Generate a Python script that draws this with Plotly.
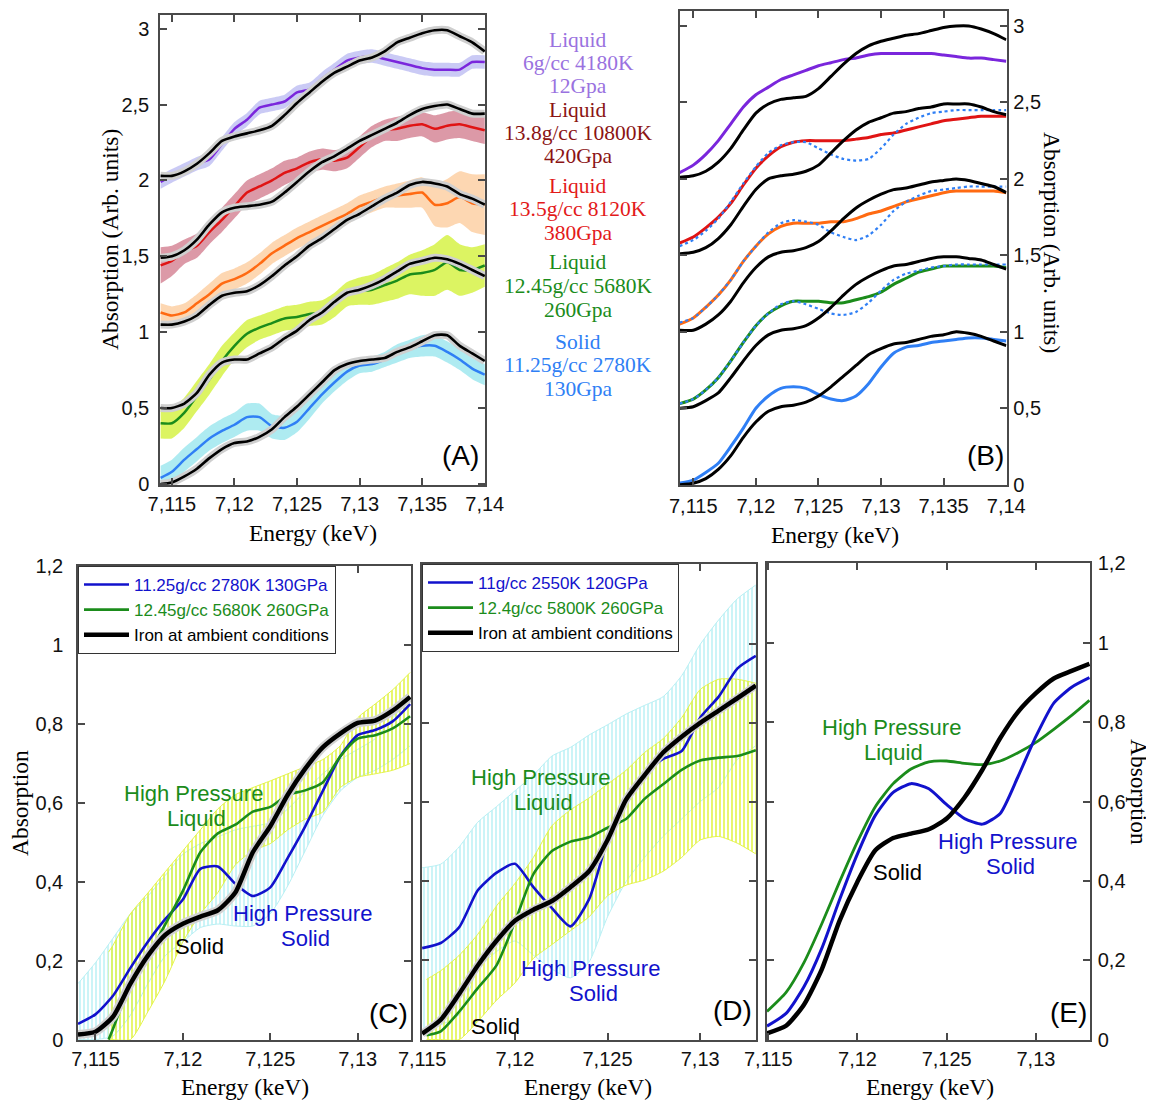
import plotly.graph_objects as go

# The page body has an 8 px margin: the figure is sized and positioned to compensate.
OFF = 8
W, H = 1154 - OFF, 1101 - OFF
def fx(p): return (p - OFF) / W
def fy(p): return 1 - (p - OFF) / H

SANS = 'Liberation Sans, Arial, sans-serif'
SERIF = 'Liberation Serif, Times New Roman, serif'

# ---------------- Panel A (experimental, offset curves) ----------------
EA = [7.1141, 7.115, 7.116, 7.117, 7.118, 7.119, 7.120, 7.121, 7.122, 7.123, 7.124, 7.125, 7.126,
      7.127, 7.128, 7.129, 7.130, 7.131, 7.132, 7.133, 7.134, 7.135, 7.136, 7.137, 7.138, 7.139, 7.140]
A_black0 = [0.00, 0.01, 0.05, 0.10, 0.17, 0.23, 0.27, 0.28, 0.31, 0.36, 0.44, 0.51, 0.59, 0.67, 0.75, 0.79, 0.81, 0.82, 0.83, 0.87, 0.90, 0.94, 0.98, 0.98, 0.91, 0.86, 0.81]
A_blue = [0.04, 0.08, 0.16, 0.23, 0.30, 0.35, 0.39, 0.44, 0.44, 0.38, 0.37, 0.41, 0.50, 0.59, 0.67, 0.74, 0.78, 0.79, 0.82, 0.86, 0.89, 0.91, 0.91, 0.87, 0.82, 0.76, 0.72]
A_err_blue = [0.08, 0.08, 0.08, 0.08, 0.08, 0.08, 0.08, 0.09, 0.09, 0.08, 0.08, 0.07, 0.07, 0.06, 0.06, 0.06, 0.05, 0.05, 0.05, 0.06, 0.06, 0.07, 0.07, 0.07, 0.07, 0.07, 0.07]
A_black1 = [0.50, 0.50, 0.53, 0.60, 0.72, 0.80, 0.82, 0.82, 0.86, 0.90, 0.96, 1.01, 1.08, 1.13, 1.20, 1.26, 1.28, 1.31, 1.35, 1.40, 1.45, 1.47, 1.49, 1.48, 1.45, 1.41, 1.37]
A_green = [0.40, 0.40, 0.47, 0.58, 0.69, 0.81, 0.91, 0.99, 1.03, 1.06, 1.09, 1.10, 1.12, 1.13, 1.18, 1.25, 1.27, 1.28, 1.31, 1.34, 1.38, 1.39, 1.41, 1.46, 1.41, 1.41, 1.44]
A_err_green = [0.10, 0.10, 0.10, 0.10, 0.10, 0.10, 0.09, 0.09, 0.08, 0.08, 0.08, 0.08, 0.08, 0.08, 0.08, 0.08, 0.09, 0.10, 0.11, 0.12, 0.13, 0.15, 0.17, 0.18, 0.17, 0.15, 0.14]
A_black2 = [1.05, 1.05, 1.07, 1.11, 1.18, 1.24, 1.26, 1.27, 1.31, 1.37, 1.44, 1.50, 1.57, 1.62, 1.68, 1.74, 1.78, 1.83, 1.88, 1.92, 1.97, 1.99, 1.98, 1.96, 1.91, 1.88, 1.84]
A_orange = [1.13, 1.11, 1.13, 1.19, 1.25, 1.32, 1.35, 1.39, 1.45, 1.52, 1.57, 1.62, 1.66, 1.70, 1.74, 1.78, 1.83, 1.86, 1.89, 1.90, 1.91, 1.92, 1.84, 1.85, 1.89, 1.85, 1.84]
A_err_orange = [0.06, 0.06, 0.06, 0.06, 0.07, 0.07, 0.07, 0.07, 0.07, 0.07, 0.07, 0.07, 0.07, 0.07, 0.07, 0.07, 0.07, 0.07, 0.07, 0.08, 0.09, 0.10, 0.14, 0.16, 0.17, 0.19, 0.20]
A_black3 = [1.49, 1.50, 1.54, 1.61, 1.71, 1.79, 1.82, 1.83, 1.84, 1.86, 1.92, 1.99, 2.06, 2.12, 2.16, 2.21, 2.26, 2.30, 2.34, 2.38, 2.43, 2.47, 2.49, 2.50, 2.47, 2.44, 2.44]
A_red = [1.44, 1.47, 1.53, 1.57, 1.66, 1.74, 1.83, 1.92, 1.96, 2.00, 2.05, 2.08, 2.12, 2.14, 2.13, 2.15, 2.22, 2.29, 2.33, 2.34, 2.36, 2.37, 2.34, 2.36, 2.37, 2.35, 2.33]
A_err_red = [0.12, 0.10, 0.08, 0.08, 0.08, 0.08, 0.08, 0.08, 0.08, 0.08, 0.08, 0.07, 0.07, 0.07, 0.07, 0.07, 0.07, 0.07, 0.07, 0.08, 0.08, 0.08, 0.09, 0.09, 0.09, 0.09, 0.09]
A_black4 = [2.03, 2.03, 2.06, 2.11, 2.18, 2.26, 2.29, 2.31, 2.33, 2.36, 2.43, 2.51, 2.58, 2.65, 2.71, 2.75, 2.79, 2.81, 2.85, 2.91, 2.94, 2.97, 2.99, 2.99, 2.95, 2.91, 2.85]
A_purple = [1.99, 2.03, 2.07, 2.11, 2.14, 2.24, 2.34, 2.40, 2.48, 2.50, 2.52, 2.58, 2.60, 2.67, 2.73, 2.79, 2.81, 2.82, 2.80, 2.78, 2.76, 2.74, 2.73, 2.73, 2.73, 2.78, 2.78]
A_err_purple = [0.045, 0.045, 0.045, 0.045, 0.045, 0.045, 0.045, 0.045, 0.045, 0.045, 0.045, 0.045, 0.045, 0.045, 0.045, 0.045, 0.045, 0.045, 0.045, 0.045, 0.045, 0.045, 0.045, 0.045, 0.045, 0.045, 0.045]

# ---------------- Panel B (calculated spectra) ----------------
EB = [7.1139, 7.115, 7.116, 7.117, 7.118, 7.119, 7.120, 7.121, 7.122, 7.123, 7.124, 7.125, 7.126,
      7.127, 7.128, 7.129, 7.130, 7.131, 7.132, 7.133, 7.134, 7.135, 7.136, 7.137, 7.138, 7.139, 7.140]
B_black0 = [0.00, 0.01, 0.04, 0.10, 0.19, 0.31, 0.41, 0.48, 0.51, 0.52, 0.54, 0.58, 0.64, 0.71, 0.78, 0.85, 0.89, 0.92, 0.93, 0.95, 0.97, 0.98, 1.00, 0.99, 0.97, 0.94, 0.91]
B_blue = [0.01, 0.03, 0.08, 0.14, 0.25, 0.37, 0.50, 0.58, 0.63, 0.64, 0.63, 0.59, 0.56, 0.55, 0.58, 0.66, 0.77, 0.86, 0.90, 0.91, 0.93, 0.94, 0.95, 0.96, 0.96, 0.95, 0.94]
B_black1 = [0.50, 0.51, 0.55, 0.60, 0.70, 0.81, 0.91, 0.98, 1.01, 1.02, 1.04, 1.09, 1.16, 1.24, 1.31, 1.36, 1.40, 1.43, 1.44, 1.46, 1.48, 1.49, 1.49, 1.48, 1.47, 1.44, 1.41]
B_green = [0.53, 0.56, 0.62, 0.70, 0.81, 0.93, 1.04, 1.12, 1.17, 1.20, 1.20, 1.20, 1.19, 1.19, 1.21, 1.23, 1.26, 1.31, 1.35, 1.39, 1.41, 1.43, 1.43, 1.43, 1.43, 1.43, 1.42]
B_dot1 = [0.53, 0.56, 0.62, 0.70, 0.81, 0.93, 1.04, 1.12, 1.18, 1.20, 1.18, 1.15, 1.12, 1.11, 1.13, 1.19, 1.27, 1.34, 1.38, 1.40, 1.42, 1.43, 1.44, 1.44, 1.44, 1.44, 1.44]
B_black2 = [1.01, 1.01, 1.05, 1.11, 1.20, 1.32, 1.42, 1.49, 1.52, 1.53, 1.55, 1.59, 1.66, 1.74, 1.81, 1.86, 1.90, 1.93, 1.94, 1.96, 1.98, 1.99, 2.00, 1.99, 1.97, 1.95, 1.91]
B_orange = [1.05, 1.09, 1.16, 1.24, 1.34, 1.46, 1.56, 1.64, 1.69, 1.71, 1.71, 1.71, 1.72, 1.72, 1.74, 1.77, 1.79, 1.82, 1.85, 1.87, 1.89, 1.91, 1.92, 1.92, 1.92, 1.92, 1.91]
B_dot2 = [1.06, 1.09, 1.16, 1.24, 1.34, 1.46, 1.56, 1.65, 1.71, 1.73, 1.72, 1.70, 1.65, 1.62, 1.60, 1.63, 1.70, 1.79, 1.85, 1.89, 1.92, 1.93, 1.94, 1.95, 1.95, 1.95, 1.95]
B_black3 = [1.51, 1.52, 1.55, 1.61, 1.70, 1.82, 1.93, 2.00, 2.02, 2.03, 2.05, 2.09, 2.17, 2.25, 2.32, 2.37, 2.40, 2.43, 2.44, 2.46, 2.47, 2.49, 2.49, 2.49, 2.47, 2.44, 2.42]
B_red = [1.58, 1.62, 1.68, 1.75, 1.84, 1.96, 2.07, 2.15, 2.21, 2.24, 2.25, 2.25, 2.25, 2.25, 2.26, 2.27, 2.29, 2.30, 2.32, 2.34, 2.36, 2.38, 2.39, 2.40, 2.41, 2.41, 2.41]
B_dot3 = [1.56, 1.60, 1.66, 1.74, 1.85, 1.97, 2.08, 2.17, 2.22, 2.24, 2.24, 2.20, 2.16, 2.13, 2.12, 2.13, 2.20, 2.29, 2.36, 2.40, 2.43, 2.44, 2.45, 2.45, 2.45, 2.45, 2.45]
B_black4 = [2.01, 2.02, 2.05, 2.11, 2.20, 2.32, 2.43, 2.49, 2.52, 2.53, 2.54, 2.59, 2.67, 2.75, 2.82, 2.87, 2.90, 2.92, 2.94, 2.95, 2.97, 2.99, 3.00, 3.00, 2.98, 2.95, 2.91]
B_purple = [2.04, 2.09, 2.16, 2.25, 2.36, 2.47, 2.55, 2.60, 2.65, 2.68, 2.71, 2.74, 2.76, 2.78, 2.79, 2.81, 2.82, 2.82, 2.82, 2.82, 2.82, 2.81, 2.80, 2.79, 2.79, 2.78, 2.77]

# ---------------- Panel C (experiment, data set 1) ----------------
EC = [7.114, 7.115, 7.116, 7.117, 7.118, 7.119, 7.120, 7.121, 7.122, 7.123, 7.124, 7.125, 7.126,
      7.127, 7.128, 7.129, 7.130, 7.131, 7.132, 7.133]
C_black = [0.013, 0.02, 0.058, 0.142, 0.213, 0.266, 0.294, 0.312, 0.328, 0.373, 0.475, 0.541, 0.621, 0.687, 0.741, 0.776, 0.803, 0.809, 0.834, 0.869]
C_blue = [0.04, 0.064, 0.111, 0.182, 0.248, 0.306, 0.355, 0.433, 0.439, 0.395, 0.364, 0.386, 0.461, 0.541, 0.63, 0.718, 0.772, 0.785, 0.807, 0.851]
C_blue_hi = [0.142, 0.195, 0.257, 0.319, 0.364, 0.417, 0.47, 0.497, 0.514, 0.532, 0.541, 0.55, 0.585, 0.63, 0.674, 0.71, 0.736, 0.763, 0.816, 0.86]
C_blue_lo = [0.0, 0.0, 0.009, 0.062, 0.142, 0.213, 0.248, 0.284, 0.293, 0.288, 0.288, 0.319, 0.39, 0.479, 0.568, 0.63, 0.665, 0.683, 0.71, 0.745]
EC_g = [7.11575, 7.116, 7.117, 7.118, 7.119, 7.120, 7.121, 7.122, 7.123, 7.124, 7.125, 7.126,
        7.127, 7.128, 7.129, 7.130, 7.131, 7.132, 7.133]
C_green = [0.0, 0.027, 0.142, 0.213, 0.293, 0.377, 0.475, 0.523, 0.545, 0.578, 0.59, 0.621, 0.632, 0.652, 0.718, 0.763, 0.772, 0.789, 0.82]
C_green_hi = [0.222, 0.239, 0.319, 0.372, 0.426, 0.479, 0.532, 0.585, 0.621, 0.639, 0.656, 0.674, 0.692, 0.71, 0.745, 0.816, 0.851, 0.887, 0.931]
C_green_lo = [0.0, 0.0, 0.0, 0.071, 0.151, 0.248, 0.319, 0.373, 0.443, 0.479, 0.497, 0.532, 0.559, 0.577, 0.639, 0.665, 0.674, 0.683, 0.70]

# ---------------- Panel D (experiment, data set 2) ----------------
ED = [7.115, 7.116, 7.117, 7.118, 7.119, 7.120, 7.121, 7.122, 7.123, 7.124, 7.125, 7.126,
      7.127, 7.128, 7.129, 7.130, 7.131, 7.132, 7.133]
D_black = [0.015, 0.05, 0.116, 0.187, 0.249, 0.30, 0.328, 0.35, 0.385, 0.425, 0.504, 0.606, 0.668, 0.725, 0.765, 0.80, 0.831, 0.862, 0.894]
D_blue = [0.231, 0.244, 0.284, 0.377, 0.421, 0.444, 0.385, 0.332, 0.286, 0.354, 0.504, 0.615, 0.672, 0.709, 0.729, 0.813, 0.866, 0.937, 0.969]
D_blue_hi = [0.434, 0.443, 0.487, 0.549, 0.588, 0.628, 0.668, 0.716, 0.738, 0.769, 0.795, 0.822, 0.844, 0.866, 0.919, 0.998, 1.06, 1.113, 1.148]
D_blue_lo = [0.019, 0.037, 0.063, 0.178, 0.222, 0.249, 0.213, 0.178, 0.156, 0.196, 0.31, 0.399, 0.46, 0.513, 0.557, 0.601, 0.637, 0.707, 0.742]
ED_g = [7.11523, 7.116, 7.117, 7.118, 7.119, 7.120, 7.121, 7.122, 7.123, 7.124, 7.125, 7.126,
        7.127, 7.128, 7.129, 7.130, 7.131, 7.132, 7.133]
D_green = [0.011, 0.021, 0.071, 0.13, 0.187, 0.297, 0.418, 0.476, 0.50, 0.511, 0.535, 0.557, 0.608, 0.645, 0.681, 0.705, 0.712, 0.716, 0.731]
D_green_hi = [0.152, 0.174, 0.213, 0.266, 0.337, 0.394, 0.46, 0.54, 0.58, 0.61, 0.645, 0.68, 0.725, 0.76, 0.813, 0.884, 0.91, 0.91, 0.90]
D_green_lo = [0.0, 0.0, 0.0, 0.046, 0.099, 0.143, 0.205, 0.24, 0.275, 0.31, 0.363, 0.39, 0.403, 0.425, 0.46, 0.504, 0.513, 0.496, 0.469]

# ---------------- Panel E (calculation) ----------------
EE = [7.11493, 7.116, 7.117, 7.118, 7.119, 7.120, 7.121, 7.122, 7.123, 7.124, 7.125, 7.126,
      7.127, 7.128, 7.129, 7.130, 7.131, 7.132, 7.133]
E_black = [0.016, 0.035, 0.088, 0.177, 0.30, 0.398, 0.477, 0.508, 0.519, 0.53, 0.557, 0.61, 0.68, 0.76, 0.826, 0.873, 0.91, 0.929, 0.947]
E_blue = [0.034, 0.066, 0.133, 0.23, 0.353, 0.468, 0.565, 0.623, 0.645, 0.632, 0.592, 0.557, 0.543, 0.57, 0.663, 0.764, 0.848, 0.888, 0.912]
E_green = [0.071, 0.119, 0.194, 0.292, 0.398, 0.499, 0.587, 0.645, 0.682, 0.70, 0.702, 0.696, 0.693, 0.702, 0.723, 0.749, 0.782, 0.817, 0.855]

# tick labels
TV_AB = [7.115, 7.12, 7.125, 7.13, 7.135, 7.14]
TT_AB = ['7,115', '7,12', '7,125', '7,13', '7,135', '7,14']
TV_CDE = [7.115, 7.12, 7.125, 7.13]
TT_CDE = ['7,115', '7,12', '7,125', '7,13']
YV_AB = [0, 0.5, 1, 1.5, 2, 2.5, 3]
YT_AB = ['0', '0,5', '1', '1,5', '2', '2,5', '3']
YV_CDE = [0, 0.2, 0.4, 0.6, 0.8, 1.0, 1.2]
YT_CDE = ['0', '0,2', '0,4', '0,6', '0,8', '1', '1,2']

# colours
C_LBLUE = '#2f7ff5'
C_GREEN = '#1b8c1b'
C_ORANGE = '#ff6a12'
C_RED = '#e01414'
C_PURPLE = '#7a26dc'
C_DBLUE = '#1212cc'

fig = go.Figure()

def line(x, y, color, width, xa, ya, dash=None, name=None, legend=None, show=False, smooth=0.6):
    fig.add_trace(go.Scatter(x=x, y=y, mode='lines',
                             line=dict(color=color, width=width, dash=dash, shape='spline', smoothing=smooth),
                             xaxis=xa, yaxis=ya, name=name, showlegend=show,
                             legend=legend if legend else 'legend', hoverinfo='skip'))

def band(x, lo, hi, color, xa, ya, pattern=None, edge=None):
    ew = 1 if edge else 0
    ec = edge if edge else 'rgba(0,0,0,0)'
    fig.add_trace(go.Scatter(x=x, y=hi, mode='lines', line=dict(width=ew, color=ec, shape='spline', smoothing=0.6),
                             xaxis=xa, yaxis=ya, showlegend=False, hoverinfo='skip'))
    if pattern:
        kw = dict(fill='tonexty', fillcolor='rgba(255,255,255,0)', fillpattern=pattern)
    else:
        kw = dict(fill='tonexty', fillcolor=color)
    fig.add_trace(go.Scatter(x=x, y=lo, mode='lines', line=dict(width=ew, color=ec, shape='spline', smoothing=0.6),
                             xaxis=xa, yaxis=ya, showlegend=False, hoverinfo='skip', **kw))

# ---- Panel A ----
groupsA = [
    (A_blue, A_err_blue, A_black0, C_LBLUE, 'rgba(160,232,238,0.85)'),
    (A_green, A_err_green, A_black1, C_GREEN, 'rgba(214,242,70,0.85)'),
    (A_orange, A_err_orange, A_black2, C_ORANGE, 'rgba(253,208,165,0.85)'),
    (A_red, A_err_red, A_black3, C_RED, 'rgba(214,135,152,0.85)'),
    (A_purple, A_err_purple, A_black4, C_PURPLE, 'rgba(196,196,244,0.9)'),
]
for yv, ev, bk, col, bcol in groupsA:
    band(EA, [a - e for a, e in zip(yv, ev)], [a + e for a, e in zip(yv, ev)], bcol, 'x', 'y')
    line(EA, yv, col, 2.5, 'x', 'y')
    line(EA, bk, '#cfcfcf', 8, 'x', 'y')
    line(EA, bk, 'black', 2.6, 'x', 'y')

# ---- Panel B ----
line(EB, B_blue, C_LBLUE, 3, 'x2', 'y2')
line(EB, B_green, C_GREEN, 3, 'x2', 'y2')
line(EB, B_dot1, C_LBLUE, 2.2, 'x2', 'y2', dash='dot')
line(EB, B_orange, C_ORANGE, 3, 'x2', 'y2')
line(EB, B_dot2, C_LBLUE, 2.2, 'x2', 'y2', dash='dot')
line(EB, B_red, C_RED, 3, 'x2', 'y2')
line(EB, B_dot3, C_LBLUE, 2.2, 'x2', 'y2', dash='dot')
line(EB, B_purple, C_PURPLE, 3, 'x2', 'y2')
for bk in (B_black0, B_black1, B_black2, B_black3, B_black4):
    line(EB, bk, 'black', 3, 'x2', 'y2')

# ---- Panel C ----
pat_cyan = dict(shape='|', fgcolor='#a8ecf2', size=4, solidity=0.3)
pat_yel = dict(shape='|', fgcolor='#dff232', size=4, solidity=0.35)
band(EC, C_blue_lo, C_blue_hi, None, 'x3', 'y3', pattern=pat_cyan, edge='#b8f0f4')
band(EC_g, C_green_lo, C_green_hi, None, 'x3', 'y3', pattern=pat_yel, edge='#e4f448')
line(EC, C_blue, C_DBLUE, 2.6, 'x3', 'y3', name='<span style="color:#1212cc">11.25g/cc 2780K 130GPa</span>', legend='legend', show=True)
line(EC_g, C_green, C_GREEN, 2.6, 'x3', 'y3', name='<span style="color:#1b8c1b">12.45g/cc 5680K 260GPa</span>', legend='legend', show=True)
line(EC, C_black, '#d2d2d2', 9, 'x3', 'y3')
line(EC, C_black, 'black', 4.5, 'x3', 'y3', name='Iron at ambient conditions', legend='legend', show=True)

# ---- Panel D ----
band(ED, D_blue_lo, D_blue_hi, None, 'x4', 'y4', pattern=pat_cyan, edge='#b8f0f4')
band(ED_g, D_green_lo, D_green_hi, None, 'x4', 'y4', pattern=pat_yel, edge='#e4f448')
line(ED, D_blue, C_DBLUE, 2.6, 'x4', 'y4', name='<span style="color:#1212cc">11g/cc 2550K 120GPa</span>', legend='legend2', show=True)
line(ED_g, D_green, C_GREEN, 2.6, 'x4', 'y4', name='<span style="color:#1b8c1b">12.4g/cc 5800K 260GPa</span>', legend='legend2', show=True)
line(ED, D_black, '#d2d2d2', 8, 'x4', 'y4')
line(ED, D_black, 'black', 4.5, 'x4', 'y4', name='Iron at ambient conditions', legend='legend2', show=True)

# ---- Panel E ----
line(EE, E_green, C_GREEN, 2.8, 'x5', 'y5')
line(EE, E_blue, C_DBLUE, 3, 'x5', 'y5')
line(EE, E_black, 'black', 4.5, 'x5', 'y5')

# ---- axes ----
def axis(domain, rng, tv, tt, anchor, side=None, labels=True, standoff=None):
    d = dict(domain=domain, range=rng, tickvals=tv, ticktext=tt, anchor=anchor,
             showline=True, linecolor='#4a4a4a', linewidth=1.5, mirror='ticks',
             ticks='inside', ticklen=7, tickwidth=1.5, tickcolor='#4a4a4a',
             showgrid=False, zeroline=False, showticklabels=labels, automargin=False,
             tickfont=dict(family=SANS, size=20, color='#111'))
    if side:
        d['side'] = side
    if standoff is not None:
        d['ticklabelstandoff'] = standoff
    return d

fig.update_layout(
    xaxis=axis([fx(160), fx(485)], [7.11405, 7.14002], TV_AB, TT_AB, 'y', standoff=0),
    yaxis=axis([fy(485), fy(15)], [-0.007, 3.09], YV_AB, YT_AB, 'x', standoff=5),
    xaxis2=axis([fx(680), fx(1006.5)], [7.11394, 7.14002], TV_AB, TT_AB, 'y2', standoff=2),
    yaxis2=axis([fy(485), fy(11)], [-0.002, 3.098], YV_AB, YT_AB, 'x2', side='right', standoff=1),
    xaxis3=axis([fx(78), fx(411)], [7.114, 7.13305], TV_CDE, TT_CDE, 'y3', standoff=0),
    yaxis3=axis([fy(1040), fy(566)], [-0.001, 1.201], YV_CDE, YT_CDE, 'x3', standoff=9),
    xaxis4=axis([fx(422), fx(756)], [7.11499, 7.13301], TV_CDE, TT_CDE, 'y4', standoff=0),
    yaxis4=axis([fy(1040), fy(564)], [-0.001, 1.201], YV_CDE, YT_CDE, 'x4', labels=False),
    xaxis5=axis([fx(767), fx(1090)], [7.11493, 7.13303], TV_CDE, TT_CDE, 'y5', standoff=0),
    yaxis5=axis([fy(1040), fy(563)], [-0.001, 1.201], YV_CDE, YT_CDE, 'x5', side='right', standoff=2),
)

legend_common = dict(xanchor='left', yanchor='top', bgcolor='white', bordercolor='#333',
                     borderwidth=1, font=dict(family=SANS, size=17, color='black'),
                     traceorder='normal', itemwidth=45)
fig.update_layout(
    legend=dict(x=fx(78), y=fy(566), **legend_common),
    legend2=dict(x=fx(422), y=fy(564), **legend_common),
)

# ---- annotations ----
ann = []
def txt(s, x, y, size, color='black', family=SANS, angle=0):
    ann.append(dict(text=s, x=fx(x), y=fy(y), xref='paper', yref='paper', showarrow=False,
                    xanchor='center', yanchor='middle', textangle=angle,
                    font=dict(family=family, size=size, color=color)))

# axis titles
TS = 23.5
txt('Absorption (Arb. units)', 110, 240, TS, family=SERIF, angle=-90)
txt('Energy (keV)', 313, 533, TS, family=SERIF)
txt('Energy (keV)', 835, 535, TS, family=SERIF)
txt('Absorption (Arb. units)', 1052, 242, TS, family=SERIF, angle=90)
txt('Absorption', 20, 803, TS, family=SERIF, angle=-90)
txt('Energy (keV)', 245, 1087, TS, family=SERIF)
txt('Energy (keV)', 588, 1087, TS, family=SERIF)
txt('Energy (keV)', 930, 1087, TS, family=SERIF)
txt('Absorption', 1139, 792, TS, family=SERIF, angle=90)

# panel letters
txt('(A)', 460, 455, 28)
txt('(B)', 985, 455, 28)
txt('(C)', 388, 1013, 28)
txt('(D)', 732, 1010, 28)
txt('(E)', 1068, 1012, 28)

# middle legend of panel A/B
mid = [
    ('Liquid', 40, '#9a72e0'), ('6g/cc 4180K', 63, '#9a72e0'), ('12Gpa', 86, '#9a72e0'),
    ('Liquid', 110, '#8b1414'), ('13.8g/cc 10800K', 133, '#8b1414'), ('420Gpa', 156, '#8b1414'),
    ('Liquid', 186, '#e31a1a'), ('13.5g/cc 8120K', 209, '#e31a1a'), ('380Gpa', 233, '#e31a1a'),
    ('Liquid', 262, '#1b8c1b'), ('12.45g/cc 5680K', 286, '#1b8c1b'), ('260Gpa', 310, '#1b8c1b'),
    ('Solid', 342, '#2f7ff5'), ('11.25g/cc 2780K', 365, '#2f7ff5'), ('130Gpa', 389, '#2f7ff5'),
]
for s, y, c in mid:
    txt(s, 578, y, 21.5, color=c, family=SERIF)

# in-panel labels C, D, E
for (gx, gy, bx, by, sx, sy) in [(193, 793, 302, 913, 199, 946),
                                 (540, 777, 590, 968, 495, 1026),
                                 (891, 727, 1007, 841, 897, 872)]:
    txt('High Pressure', gx, gy, 22, color=C_GREEN)
    txt('Liquid', gx + 3, gy + 25, 22, color=C_GREEN)
    txt('High Pressure', bx, by, 22, color=C_DBLUE)
    txt('Solid', bx + 3, by + 25, 22, color=C_DBLUE)
    txt('Solid', sx, sy, 22, color='black')

fig.update_layout(annotations=ann, width=W, height=H, margin=dict(l=0, r=0, t=0, b=0, pad=0),
                  template='none', paper_bgcolor='white', plot_bgcolor='white', showlegend=True)

fig.write_html('out.html')
